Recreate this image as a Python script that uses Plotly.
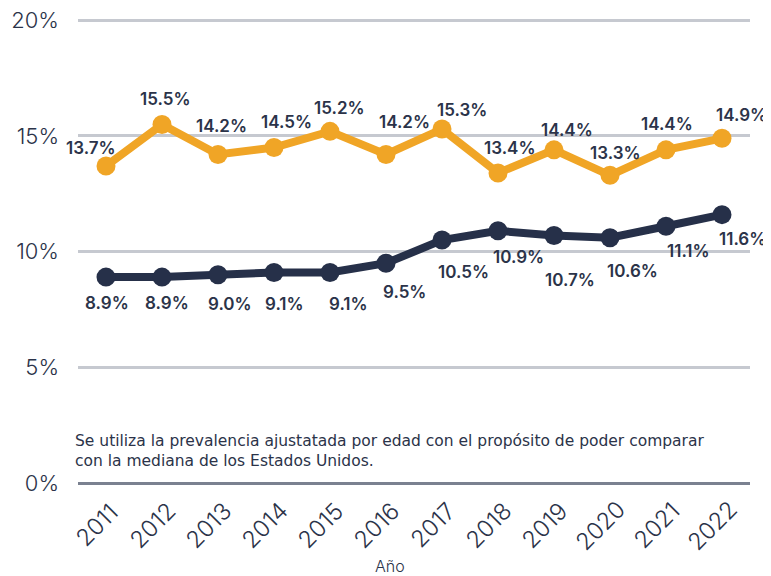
import plotly.graph_objects as go

years = ["2011", "2012", "2013", "2014", "2015", "2016", "2017", "2018", "2019", "2020", "2021", "2022"]
orange_values = [13.7, 15.5, 14.2, 14.5, 15.2, 14.2, 15.3, 13.4, 14.4, 13.3, 14.4, 14.9]
navy_values = [8.9, 8.9, 9.0, 9.1, 9.1, 9.5, 10.5, 10.9, 10.7, 10.6, 11.1, 11.6]
y_ticks = [0, 5, 10, 15, 20]
y_tick_text = ["0%", "5%", "10%", "15%", "20%"]
note_text = ("Se utiliza la prevalencia ajustatada por edad con el propósito de poder comparar"
             "<br>con la mediana de los Estados Unidos.")
x_title = "Año"

# label offsets (pixels) - styling only
orange_dx = [-15, 3, 3, 12, 9, 18, 20, 11, 13, 5, 1, 19]
orange_dy = [18, 25, 28, 26, 23, 32, 19, 25, 20, 22, 26, 23]
navy_dx = [1, 5, 12, 10, 18, 18, 21, 20, 16, 22, 22, 20]
navy_dy = [-26, -26, -29, -32, -32, -29, -32, -26, -45, -33, -25, -24]

ORANGE = "#F0A526"
NAVY = "#263049"
TEXT = "#2B3349"
FONT = "Inter"

fig = go.Figure()
fig.add_trace(go.Scatter(x=years, y=orange_values, mode="lines+markers",
                         line=dict(color=ORANGE, width=8),
                         marker=dict(color=ORANGE, size=19), hoverinfo="skip",
                         cliponaxis=False))
fig.add_trace(go.Scatter(x=years, y=navy_values, mode="lines+markers",
                         line=dict(color=NAVY, width=8),
                         marker=dict(color=NAVY, size=19), hoverinfo="skip",
                         cliponaxis=False))

annotations = []
for i, v in enumerate(orange_values):
    annotations.append(dict(x=i, y=v, xref="x", yref="y", text=f"{v:.1f}%",
                            showarrow=False, xshift=orange_dx[i], yshift=orange_dy[i],
                            font=dict(family=FONT, size=17, color=TEXT, weight=600)))
for i, v in enumerate(navy_values):
    annotations.append(dict(x=i, y=v, xref="x", yref="y", text=f"{v:.1f}%",
                            showarrow=False, xshift=navy_dx[i], yshift=navy_dy[i],
                            font=dict(family=FONT, size=17, color=TEXT, weight=600)))
# rotated year tick labels
for i, yr in enumerate(years):
    annotations.append(dict(x=i, y=y_ticks[0], xref="x", yref="y", text=yr,
                            showarrow=False, textangle=-45, xshift=-10, yshift=-42,
                            font=dict(family=FONT, size=23.5, color=TEXT, weight=300)))
annotations.append(dict(x=-0.0074, y=0.0688, xref="paper", yref="paper", text=note_text,
                        showarrow=False, xanchor="left", yanchor="middle", align="left",
                        font=dict(family="DejaVu Sans", size=15.5, color=TEXT)))
annotations.append(dict(x=0.464, y=-0.178, xref="paper", yref="paper", text=x_title,
                        showarrow=False, xanchor="center", yanchor="middle",
                        font=dict(family=FONT, size=16, color=TEXT, weight=300)))

fig.update_layout(
    width=763, height=568,
    margin=dict(l=70, r=21, t=10, b=93, autoexpand=False),
    paper_bgcolor="white", plot_bgcolor="white",
    showlegend=False,
    annotations=annotations,
    xaxis=dict(type="category", range=[-0.5, 11.5], showticklabels=False,
               showgrid=False, showline=False, ticks="", zeroline=False),
    yaxis=dict(range=[0, 20.1], tickmode="array", tickvals=y_ticks, ticktext=y_tick_text,
               showgrid=True, gridcolor="#C6C9D0", gridwidth=3,
               zeroline=True, zerolinecolor="#7A8190", zerolinewidth=3,
               showline=False, ticks="", ticklabelstandoff=18, ticklabeloverflow="allow",
               tickfont=dict(family=FONT, size=22, color=TEXT, weight=300)),
)

fig.write_html("out.html")
